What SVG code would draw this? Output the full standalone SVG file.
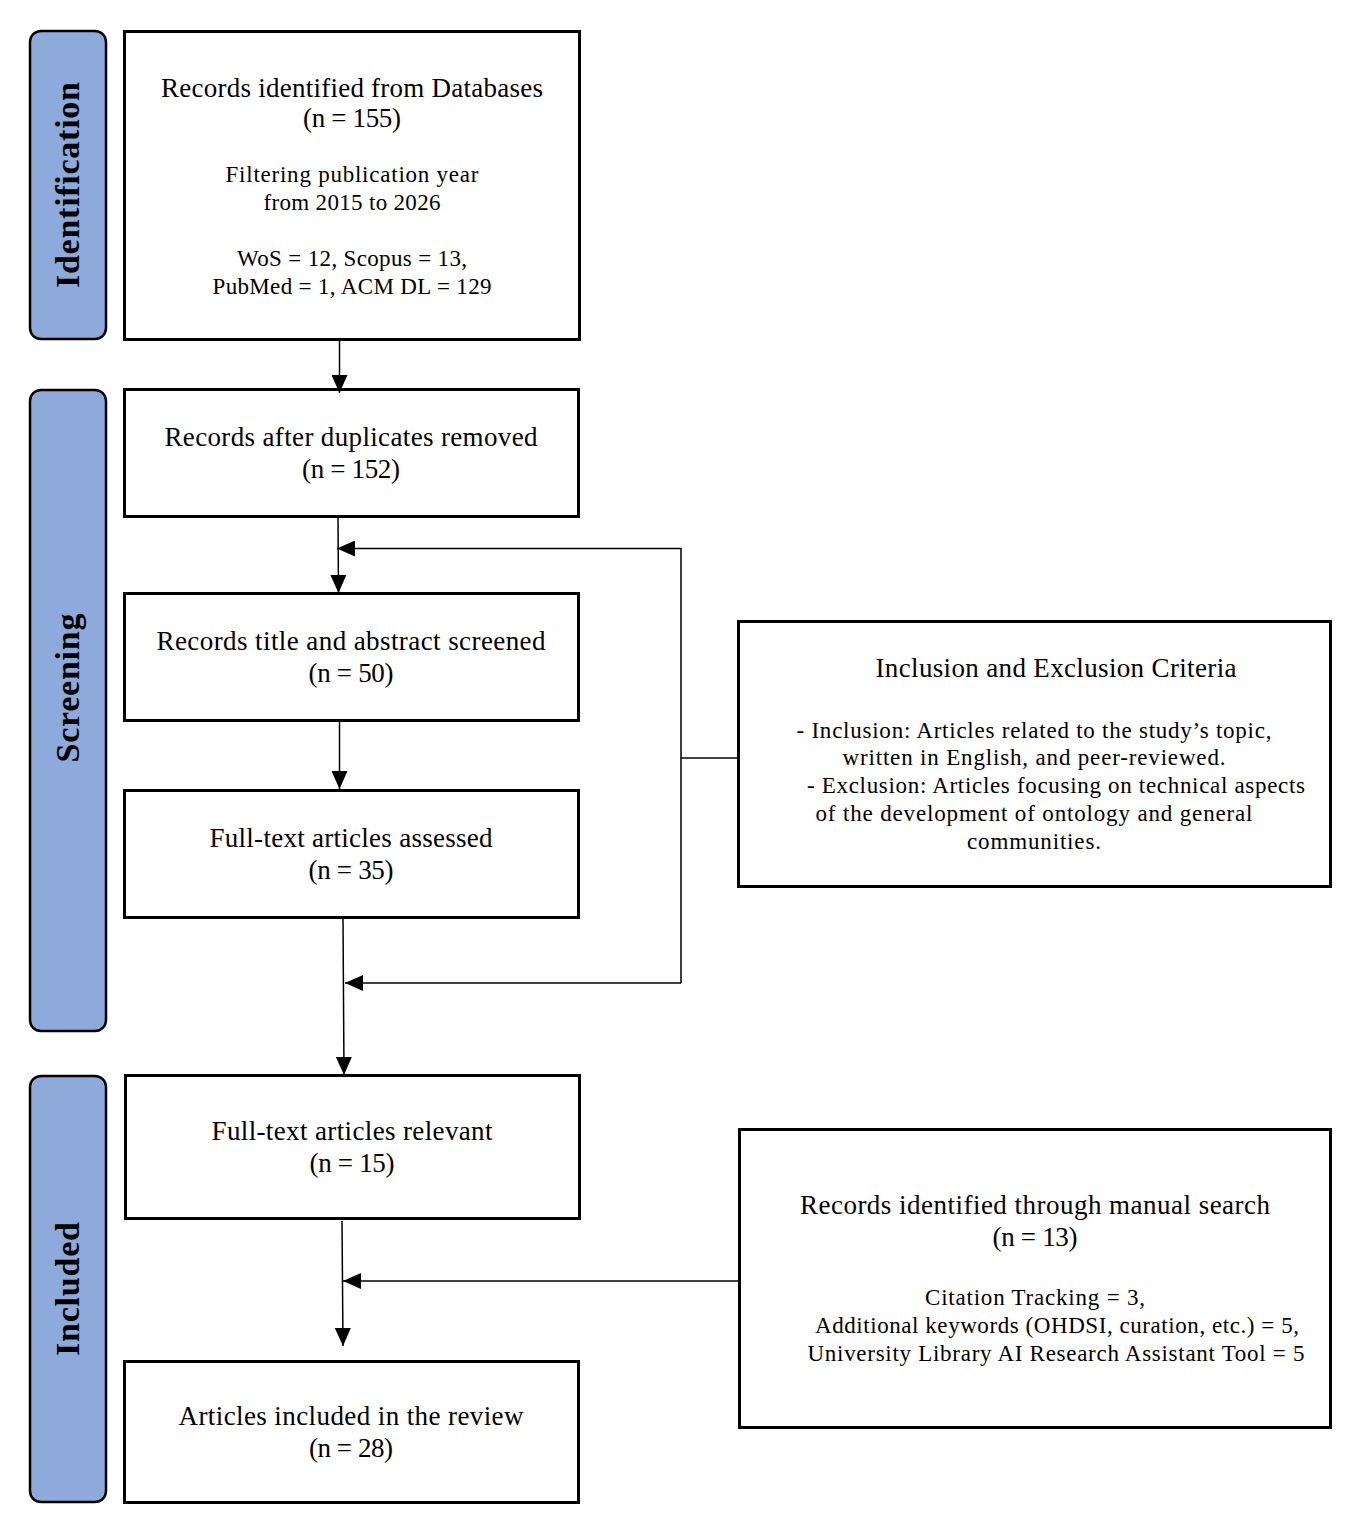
<svg xmlns="http://www.w3.org/2000/svg" width="1360" height="1533" viewBox="0 0 1360 1533">
<style>
.bar{fill:#8eaadb;stroke:#000;stroke-width:2.5}
.box{fill:#fff;stroke:#000;stroke-width:3}
.t{font-family:"Liberation Serif","DejaVu Serif",serif;font-size:27px;text-anchor:middle;fill:#000}
.s{font-family:"Liberation Serif","DejaVu Serif",serif;font-size:23px;text-anchor:middle;fill:#000}
.c{font-family:"Liberation Serif","DejaVu Serif",serif;font-size:23px;text-anchor:middle;fill:#000}
.lab{font-family:"Liberation Serif","DejaVu Serif",serif;font-size:34px;font-weight:bold;text-anchor:middle;fill:#000}
.ln{fill:none;stroke:#000;stroke-width:1.5}
</style>
<defs>
<marker id="ah" markerWidth="18" markerHeight="16" refX="18" refY="8" orient="auto" markerUnits="userSpaceOnUse" viewBox="0 0 18 16">
<path d="M0,0 L18,8 L0,16 Z" fill="#000"/>
</marker>
</defs>
<rect width="1360" height="1533" fill="#fff"/>

<g id="bar-identification">
<rect class="bar" x="30" y="31" width="76" height="308" rx="11"/>
<text class="lab" transform="translate(79,185) rotate(-90)" textLength="206">Identification</text>
</g>
<g id="bar-screening">
<rect class="bar" x="30" y="390" width="76" height="641" rx="11"/>
<text class="lab" transform="translate(79,688) rotate(-90)" textLength="149">Screening</text>
</g>
<g id="bar-included">
<rect class="bar" x="30" y="1076" width="76" height="426" rx="11"/>
<text class="lab" transform="translate(79,1289) rotate(-90)" textLength="134">Included</text>
</g>

<g id="node-identified">
<rect class="box" x="124.5" y="31.5" width="455" height="308"/>
<text class="t" x="352" y="97" textLength="382">Records identified from Databases</text>
<text class="t" x="352" y="127" textLength="98">(n = 155)</text>
<text class="s" x="352" y="182" textLength="253">Filtering publication year</text>
<text class="s" x="352" y="210" textLength="177">from 2015 to 2026</text>
<text class="s" x="352" y="266" textLength="230">WoS = 12, Scopus = 13,</text>
<text class="s" x="352" y="294" textLength="279">PubMed = 1, ACM DL = 129</text>
</g>
<g id="node-duplicates">
<rect class="box" x="124.5" y="389.5" width="454" height="127"/>
<text class="t" x="351" y="446" textLength="373">Records after duplicates removed</text>
<text class="t" x="351" y="478" textLength="98">(n = 152)</text>
</g>
<g id="node-screened">
<rect class="box" x="124.5" y="593.5" width="454" height="127"/>
<text class="t" x="351" y="650" textLength="389">Records title and abstract screened</text>
<text class="t" x="351" y="682" textLength="85">(n = 50)</text>
</g>
<g id="node-assessed">
<rect class="box" x="124.5" y="790.5" width="454" height="127"/>
<text class="t" x="351" y="847" textLength="283">Full-text articles assessed</text>
<text class="t" x="351" y="879" textLength="85">(n = 35)</text>
</g>
<g id="node-relevant">
<rect class="box" x="125.5" y="1075.5" width="454" height="143"/>
<text class="t" x="352" y="1140" textLength="281">Full-text articles relevant</text>
<text class="t" x="352" y="1172" textLength="85">(n = 15)</text>
</g>
<g id="node-included">
<rect class="box" x="124.5" y="1361.5" width="454" height="141"/>
<text class="t" x="351" y="1425" textLength="345">Articles included in the review</text>
<text class="t" x="351" y="1457" textLength="84">(n = 28)</text>
</g>
<g id="node-criteria">
<rect class="box" x="738.5" y="621.5" width="592" height="265"/>
<text class="t" x="1056" y="677" textLength="361">Inclusion and Exclusion Criteria</text>
<text class="c" x="1034" y="738" textLength="475">- Inclusion: Articles related to the study’s topic,</text>
<text class="c" x="1034" y="765" textLength="383">written in English, and peer-reviewed.</text>
<text class="c" x="1056" y="793" textLength="498">- Exclusion: Articles focusing on technical aspects</text>
<text class="c" x="1034" y="821" textLength="437">of the development of ontology and general</text>
<text class="c" x="1034" y="849" textLength="134">communities.</text>
</g>
<g id="node-manual">
<rect class="box" x="739.5" y="1129.5" width="591" height="298"/>
<text class="t" x="1035" y="1214" textLength="470">Records identified through manual search</text>
<text class="t" x="1035" y="1246" textLength="85">(n = 13)</text>
<text class="s" x="1035" y="1305" textLength="220">Citation Tracking = 3,</text>
<text class="s" x="1057" y="1333" textLength="484">Additional keywords (OHDSI, curation, etc.) = 5,</text>
<text class="s" x="1056" y="1361" textLength="497">University Library AI Research Assistant Tool = 5</text>
</g>

<g id="connectors">
<line class="ln" x1="339.5" y1="341" x2="339.5" y2="393" marker-end="url(#ah)"/>
<line class="ln" x1="338" y1="518" x2="338.5" y2="593" marker-end="url(#ah)"/>
<line class="ln" x1="339.5" y1="721" x2="339.5" y2="789" marker-end="url(#ah)"/>
<line class="ln" x1="343" y1="919" x2="344" y2="1075" marker-end="url(#ah)"/>
<line class="ln" x1="342" y1="1221" x2="343" y2="1346" marker-end="url(#ah)"/>
<polyline class="ln" points="738,758 681,758"/>
<polyline class="ln" points="681,983 681,548.5 337,548.5" marker-end="url(#ah)"/>
<polyline class="ln" points="681,983 345,983" marker-end="url(#ah)"/>
<line class="ln" x1="739" y1="1281" x2="343" y2="1281" marker-end="url(#ah)"/>
</g>
</svg>
